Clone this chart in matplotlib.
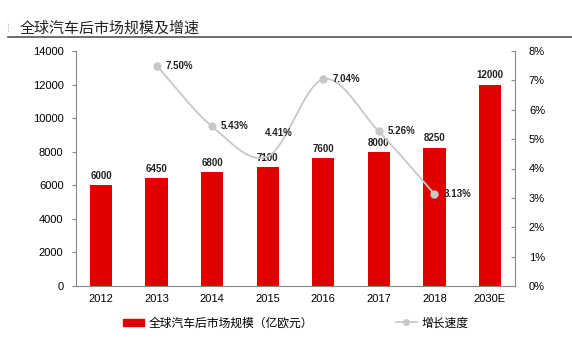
import matplotlib
matplotlib.use("Agg")
import matplotlib.pyplot as plt
import numpy as np
from matplotlib.lines import Line2D
from matplotlib.patches import Patch

plt.rcParams['font.family'] = ['Noto Sans CJK SC', 'DejaVu Sans']
NUMFONT = 'Liberation Sans'

categories = ['2012', '2013', '2014', '2015', '2016', '2017', '2018', '2030E']
market_size = [6000, 6450, 6800, 7100, 7600, 8000, 8250, 12000]
growth_idx = [1, 2, 3, 4, 5, 6]
growth_rate = [7.50, 5.43, 4.41, 7.04, 5.26, 3.13]
title = '全球汽车后市场规模及增速'
bar_label = '全球汽车后市场规模（亿欧元）'
line_label = '增长速度'

bar_color = '#E00000'
line_color = '#C8C8C8'

fig = plt.figure(figsize=(5.72, 3.62), dpi=100)
ax = fig.add_axes([76/572, 1-286/362, (515-76)/572, (286-51)/362])
ax2 = ax.twinx()

x = np.arange(len(categories))
ax.bar(x, market_size, width=0.4, color=bar_color, zorder=2)
for xi, v in zip(x, market_size):
    ax.text(xi, v + 250, str(v), ha='center', va='bottom', fontsize=7,
            fontweight='bold', family=NUMFONT, color='#222222')

ax.set_xlim(-0.45, len(categories) - 0.55)
ax.set_ylim(0, 14000)
ax.set_yticks(range(0, 14001, 2000))
ax.set_xticks(x)
ax.set_xticklabels(categories)
ax.tick_params(axis='y', direction='out', length=3, labelsize=8, color='#888888', pad=6)
ax.tick_params(axis='x', length=0, labelsize=8, pad=6)
for lbl in ax.get_xticklabels() + ax.get_yticklabels():
    lbl.set_family(NUMFONT)
for s in ['top', 'right']:
    ax.spines[s].set_visible(False)
for s in ['left', 'bottom']:
    ax.spines[s].set_color('#888888')
    ax.spines[s].set_linewidth(0.8)

# smooth curve (Catmull-Rom through the data points)
px = np.array(growth_idx, dtype=float)
py = np.array(growth_rate, dtype=float)
P = np.column_stack([px, py])
P_ext = np.vstack([2*P[0]-P[1], P, 2*P[-1]-P[-2]])
curve = []
for i in range(1, len(P_ext)-2):
    p0, p1, p2, p3 = P_ext[i-1], P_ext[i], P_ext[i+1], P_ext[i+2]
    t = np.linspace(0, 1, 30)[:, None]
    seg = 0.5*((2*p1) + (-p0+p2)*t + (2*p0-5*p1+4*p2-p3)*t**2 + (-p0+3*p1-3*p2+p3)*t**3)
    curve.append(seg)
curve = np.vstack(curve)
ax2.plot(curve[:, 0], curve[:, 1], color=line_color, lw=1.3, zorder=3)
ax2.plot(px, py, 'o', color=line_color, ms=5, markevery=[0, 1, 3, 4, 5], zorder=4)
for i, (xi, v) in enumerate(zip(px, py)):
    if i == 2:
        ax2.text(xi + 0.2, v + 0.8, f'{v:.2f}%', ha='center', va='center', fontsize=7,
                 fontweight='bold', family=NUMFONT, color='#222222', zorder=5)
    else:
        ax2.text(xi + 0.16, v, f'{v:.2f}%', ha='left', va='center', fontsize=7,
                 fontweight='bold', family=NUMFONT, color='#222222', zorder=5)

ax2.set_ylim(0, 8)
ax2.set_yticks(range(0, 9))
ax2.set_yticklabels([f'{i}%' for i in range(0, 9)])
ax2.tick_params(axis='y', direction='in', length=3, labelsize=8, color='#888888', pad=10)
for lbl in ax2.get_yticklabels():
    lbl.set_family(NUMFONT)
for s in ['top', 'left', 'bottom']:
    ax2.spines[s].set_visible(False)
ax2.spines['right'].set_color('#888888')
ax2.spines['right'].set_linewidth(0.8)

# title
fig.text(20/572, 1-28/362, title, fontsize=10.8, ha='left', va='center', color='#222222')
fig.add_artist(Line2D([8/572, 1.0], [1-37/362, 1-37/362], color='#555555', lw=1.2))
fig.add_artist(Line2D([8/572, 8/572], [1-24/362, 1-31/362], color='#9999cc', lw=0.8, ls=':'))

handles = [Patch(color=bar_color), Line2D([0], [0], color=line_color, marker='o', ms=4, lw=1.3)]
fig.legend(handles[:1], [bar_label], loc='center left', bbox_to_anchor=(112/572, 1-323/362),
           frameon=False, fontsize=8.5, handlelength=1.8, handleheight=0.5, handletextpad=0.4)
fig.legend(handles[1:], [line_label], loc='center left', bbox_to_anchor=(385/572, 1-323/362),
           frameon=False, fontsize=8.5, handlelength=1.8, handletextpad=0.4)

fig.savefig('out.png', dpi=100)
